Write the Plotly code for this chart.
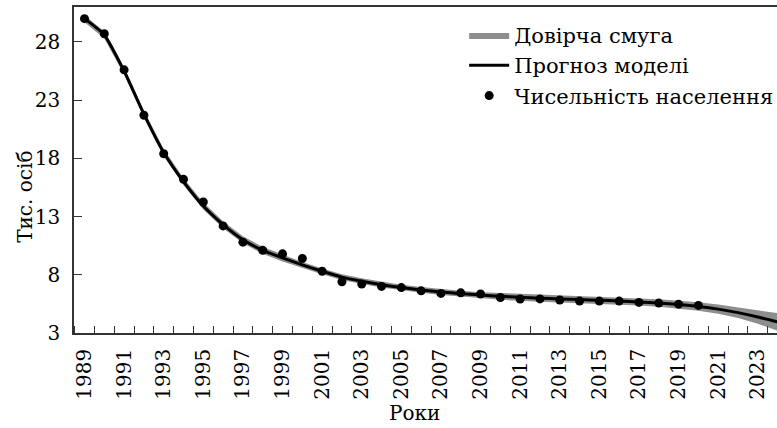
import plotly.graph_objects as go

# Observed population (thousand persons)
obs_years = list(range(1989, 2021))
population = [30.0, 28.7, 25.6, 21.7, 18.4, 16.2, 14.25, 12.2, 10.8, 10.1,
              9.8, 9.4, 8.3, 7.4, 7.2, 7.0, 6.9, 6.62, 6.4, 6.45,
              6.35, 6.05, 5.92, 5.93, 5.83, 5.74, 5.74, 5.74, 5.63, 5.57,
              5.48, 5.37]

# Model forecast and confidence band
model_years = list(range(1989, 2025))
model_pred = [30.0, 28.6, 25.5, 21.8, 18.5, 16.0, 13.9, 12.3, 11.0, 10.1,
              9.45, 8.85, 8.3, 7.8, 7.45, 7.15, 6.9, 6.7, 6.52, 6.38,
              6.26, 6.15, 6.06, 5.99, 5.93, 5.87, 5.81, 5.75, 5.67, 5.58,
              5.45, 5.28, 5.05, 4.75, 4.38, 3.95]
band_upper = [30.3, 28.9, 25.8, 22.1, 18.8, 16.3, 14.2, 12.6, 11.3, 10.4,
              9.75, 9.1, 8.55, 8.05, 7.7, 7.4, 7.15, 6.95, 6.77, 6.63,
              6.51, 6.45, 6.36, 6.29, 6.23, 6.17, 6.11, 6.05, 5.97, 5.9,
              5.79, 5.64, 5.45, 5.21, 4.96, 4.7]
band_lower = [29.7, 28.3, 25.2, 21.5, 18.2, 15.7, 13.6, 12.0, 10.7, 9.8,
              9.15, 8.6, 8.05, 7.55, 7.2, 6.9, 6.65, 6.45, 6.27, 6.13,
              6.01, 5.85, 5.76, 5.69, 5.63, 5.57, 5.51, 5.45, 5.37, 5.26,
              5.11, 4.92, 4.65, 4.29, 3.8, 3.2]

x_tick_years = list(range(1989, 2024, 2))
x_tick_labels = [str(y) for y in x_tick_years]
x_minor_ticks = [y + 0.5 for y in range(1988, 2024)]
y_ticks = [3, 8, 13, 18, 23, 28]

FONT = "DejaVu Serif"
FS = 20

fig = go.Figure()
fig.add_trace(go.Scatter(
    x=model_years + model_years[::-1],
    y=band_upper + band_lower[::-1],
    fill="toself", fillcolor="#8e8e8e", line=dict(width=0, color="#8e8e8e"),
    mode="lines", name="Довірча смуга", hoverinfo="skip"))
fig.add_trace(go.Scatter(
    x=model_years, y=model_pred, mode="lines",
    line=dict(color="black", width=3, shape="spline", smoothing=0.6),
    name="Прогноз моделі"))
fig.add_trace(go.Scatter(
    x=obs_years, y=population, mode="markers",
    marker=dict(color="black", size=9), name="Чисельність населення"))

fig.update_layout(
    width=777, height=428,
    margin=dict(l=74, r=0, t=7, b=95, autoexpand=False),
    paper_bgcolor="white", plot_bgcolor="white",
    font=dict(family=FONT, size=FS, color="black"),
    showlegend=True,
    legend=dict(x=0.555, y=0.976, xanchor="left", yanchor="top",
                bgcolor="rgba(0,0,0,0)", itemwidth=40,
                font=dict(family=FONT, size=21), tracegroupgap=0),
    xaxis=dict(range=[1988.47, 2023.97], tickmode="array",
               tickvals=x_tick_years, ticktext=x_tick_labels,
               tickangle=-90, ticks="", showgrid=False, zeroline=False,
               showline=True, linecolor="#333", linewidth=1.5, mirror=True,
               ticklabelstandoff=6, automargin=False,
               minor=dict(tickmode="array", tickvals=x_minor_ticks,
                          ticks="inside", ticklen=7, tickcolor="#333",
                          tickwidth=1.3, showgrid=False)),
    yaxis=dict(range=[3, 31], tickmode="array", tickvals=y_ticks,
               ticks="inside", ticklen=8, tickcolor="#333", tickwidth=1.3,
               showgrid=False, zeroline=False, showline=True,
               linecolor="#333", linewidth=1.5, mirror=True,
               ticklabelstandoff=8, automargin=False),
    annotations=[
        dict(text="Тис. осіб", xref="paper", yref="paper",
             x=-0.07, y=0.417, xanchor="center", yanchor="middle",
             textangle=-90, showarrow=False, font=dict(family=FONT, size=FS)),
        dict(text="Роки", xref="paper", yref="paper",
             x=0.485, y=-0.245, xanchor="center", yanchor="middle",
             showarrow=False, font=dict(family=FONT, size=FS)),
    ],
)

fig.write_html("out.html", config={"displayModeBar": False},
               post_script="document.body.style.margin='0';")
